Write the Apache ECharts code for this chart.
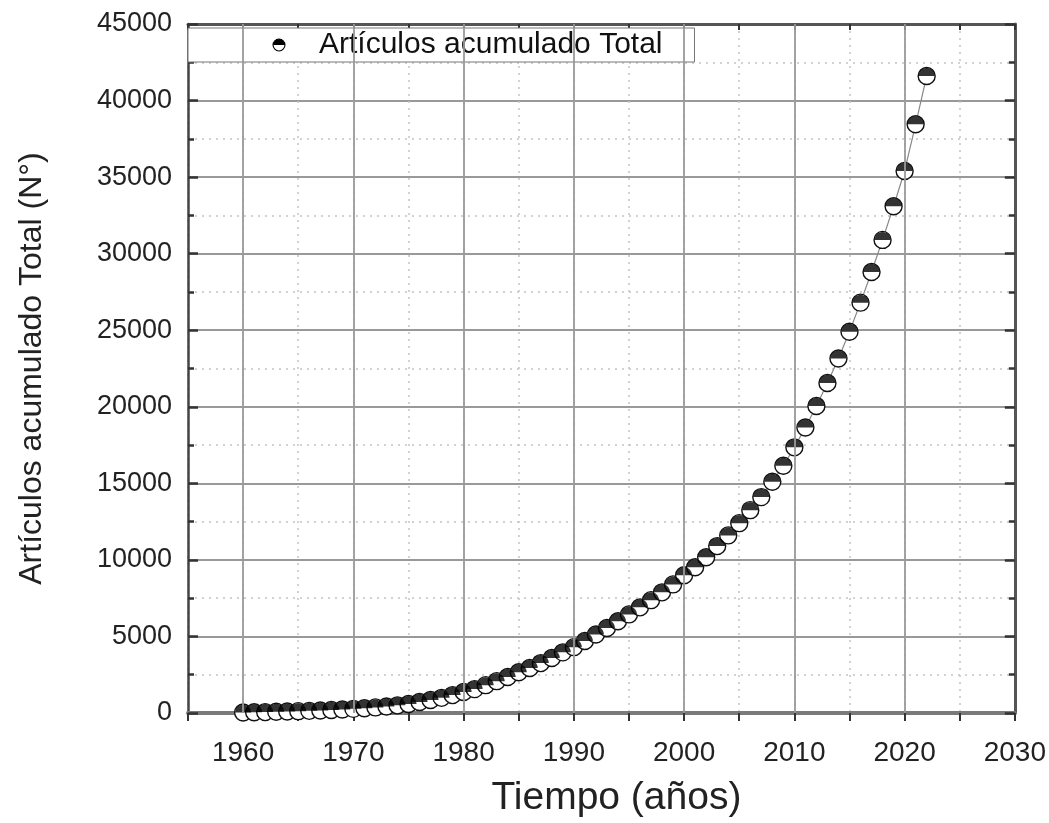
<!DOCTYPE html>
<html>
<head>
<meta charset="utf-8">
<script src="https://cdn.jsdelivr.net/npm/echarts@6/dist/echarts.min.js"></script>
<style>
  html, body { margin: 0; padding: 0; background: #fff; }
  #chart { width: 1049px; height: 823px; }
</style>
</head>
<body>
<div id="chart"></div>
<script>
// años 1960 - 2022
const years = [
  1960, 1961, 1962, 1963, 1964, 1965, 1966, 1967, 1968, 1969,
  1970, 1971, 1972, 1973, 1974, 1975, 1976, 1977, 1978, 1979,
  1980, 1981, 1982, 1983, 1984, 1985, 1986, 1987, 1988, 1989,
  1990, 1991, 1992, 1993, 1994, 1995, 1996, 1997, 1998, 1999,
  2000, 2001, 2002, 2003, 2004, 2005, 2006, 2007, 2008, 2009,
  2010, 2011, 2012, 2013, 2014, 2015, 2016, 2017, 2018, 2019,
  2020, 2021, 2022
]
// artículos acumulados
const totals = [
  30, 45, 60, 80, 100, 120, 140, 165, 195, 230,
  270, 315, 365, 425, 500, 590, 720, 850, 990, 1170,
  1370, 1560, 1820, 2080, 2350, 2660, 2940, 3260, 3590, 3960,
  4300, 4700, 5130, 5550, 5990, 6440, 6900, 7370, 7880, 8400,
  9000, 9520, 10170, 10900, 11600, 12400, 13250, 14100, 15100, 16150,
  17350, 18650, 20050, 21550, 23150, 24900, 26800, 28800, 30900, 33100,
  35400, 38450, 41600
]
// líneas principales de la rejilla vertical
const decadeLines = [1960, 1970, 1980, 1990, 2000, 2010, 2020]

const seriesName = 'Artículos acumulado Total'
const points = years.map((y, i) => [y, totals[i]])

const halfDisk = 'path://M0,10 C0,4.5 4.5,0 10,0 C15.5,0 20,4.5 20,10 Z'
const legendSvg = "<svg xmlns='http://www.w3.org/2000/svg' width='20' height='20'>" +
  "<circle cx='10' cy='10' r='8.5' fill='white' stroke='black' stroke-width='1.6'/>" +
  "<path d='M1.5,10 A8.5,8.5 0 0 1 18.5,10 Z' fill='black'/></svg>"
const legendIcon = 'image://data:image/svg+xml;charset=utf-8,' + encodeURIComponent(legendSvg)

const font = 'Liberation Sans, Arial, sans-serif'
const chart = echarts.init(document.getElementById('chart'))

chart.setOption({
  animation: false,
  backgroundColor: '#fff',
  grid: { left: 188, right: 34, top: 24, bottom: 110 },
  legend: {
    left: 188,
    top: 28,
    data: [{ name: seriesName, icon: legendIcon }],
    itemWidth: 14,
    itemHeight: 14,
    padding: [2, 32, 2, 84],
    backgroundColor: '#fff',
    borderColor: '#777',
    borderWidth: 1,
    textStyle: { fontFamily: font, fontSize: 30, color: '#111', padding: [0, 0, 0, 28] }
  },
  xAxis: [
    {
      type: 'value',
      min: 1955,
      max: 2030,
      interval: 5,
      position: 'bottom',
      name: 'Tiempo (años)',
      nameLocation: 'middle',
      nameGap: 66,
      nameTextStyle: { fontFamily: font, fontSize: 39, color: '#222', padding: [0, 0, 0, 30] },
      axisLine: { show: true, onZero: false, lineStyle: { color: '#7a7a7a', width: 4 } },
      axisTick: { show: true, inside: false, length: 8, lineStyle: { color: '#333', width: 2 } },
      axisLabel: {
        margin: 26,
        fontFamily: font,
        fontSize: 28,
        color: '#222',
        formatter: (v) => (v % 10 === 0 ? String(v) : '')
      },
      splitLine: { show: true, lineStyle: { color: '#c4c4c4', width: 1.5, type: [2, 5] } }
    },
    {
      type: 'value',
      min: 1955,
      max: 2030,
      interval: 5,
      position: 'top',
      axisLine: { show: true, onZero: false, lineStyle: { color: '#555', width: 3 } },
      axisTick: { show: true, inside: true, length: 6, lineStyle: { color: '#333', width: 2 } },
      axisLabel: { show: false },
      splitLine: { show: false }
    }
  ],
  yAxis: [
    {
      type: 'value',
      min: 0,
      max: 45000,
      interval: 5000,
      position: 'left',
      name: 'Artículos acumulado Total (N°)',
      nameLocation: 'middle',
      nameGap: 140,
      nameTextStyle: { fontFamily: font, fontSize: 32, color: '#222' },
      axisLine: { show: true, onZero: false, lineStyle: { color: '#444', width: 2.5 } },
      axisTick: { show: true, inside: true, length: 10, lineStyle: { color: '#333', width: 2.5 } },
      minorTick: { show: true, splitNumber: 2, length: 6, lineStyle: { color: '#333', width: 2.5 } },
      axisLabel: {
        margin: 16,
        fontFamily: font,
        fontSize: 27,
        color: '#222',
        formatter: (v) => String(v)
      },
      splitLine: { show: true, lineStyle: { color: '#999', width: 1.8 } },
      minorSplitLine: { show: true, lineStyle: { color: '#c4c4c4', width: 1.5, type: [2, 5] } }
    },
    {
      type: 'value',
      min: 0,
      max: 45000,
      interval: 5000,
      position: 'right',
      axisLine: { show: true, onZero: false, lineStyle: { color: '#555', width: 3 } },
      axisTick: { show: true, inside: true, length: 10, lineStyle: { color: '#333', width: 2.5 } },
      minorTick: { show: true, splitNumber: 2, length: 6, lineStyle: { color: '#333', width: 2.5 } },
      axisLabel: { show: false },
      splitLine: { show: false }
    }
  ],
  series: [
    {
      // líneas verticales de década (rejilla principal)
      name: 'grid',
      type: 'line',
      data: [],
      z: 1,
      silent: true,
      markLine: {
        silent: true,
        symbol: 'none',
        label: { show: false },
        lineStyle: { color: '#999', width: 1.8, type: 'solid' },
        data: decadeLines.map((x) => ({ xAxis: x }))
      }
    },
    {
      name: seriesName,
      type: 'line',
      data: points,
      z: 3,
      symbol: 'circle',
      symbolSize: 17,
      showAllSymbol: true,
      lineStyle: { color: '#888', width: 1.2 },
      itemStyle: { color: '#fff', borderColor: '#111', borderWidth: 1.4 }
    },
    {
      name: 'mitad',
      type: 'scatter',
      data: points,
      z: 4,
      silent: true,
      symbol: halfDisk,
      symbolSize: [16, 8],
      symbolOffset: [0, -4],
      itemStyle: { color: '#000' }
    }
  ]
})
</script>
</body>
</html>
